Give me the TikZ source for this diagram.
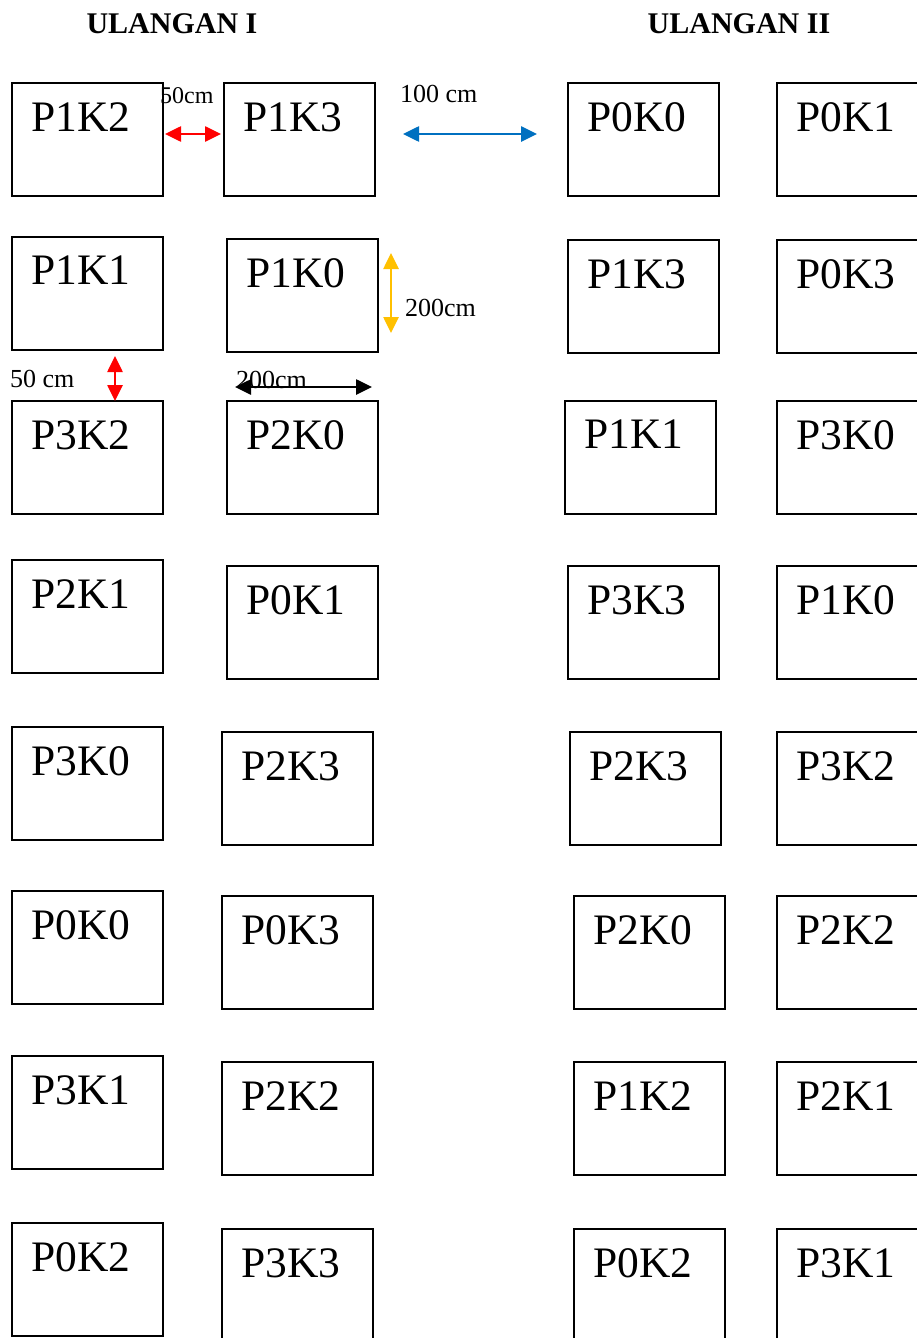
\documentclass[tikz,border=0pt]{standalone}
\usepackage{fontspec}
\setmainfont{Liberation Serif}
\usetikzlibrary{arrows.meta}

\tikzset{%
  plot box/.style={
    draw,
    line width=1.5pt,
    anchor=north west,
    minimum width=151pt,
    minimum height=113pt,
    inner sep=0pt,
    label={[plot name]north west:#1}
  },
  plot name/.style={
    anchor=north west,
    inner sep=0pt,
    xshift=20pt,
    yshift=-20pt,
    font=\fontsize{43.5}{45}\selectfont
  },
  gap arrow/.style={
    {Triangle[length=16pt,width=15pt]}-{Triangle[length=16pt,width=15pt]},
    line width=2.6pt,
    draw=#1
  },
  gap text/.style={
    inner sep=0pt,
    anchor=base west,
    font=\fontsize{26}{28}\selectfont
  },
  block title/.style={
    inner sep=0pt,
    font=\fontsize{30}{32}\selectfont\bfseries
  },
}

\definecolor{gapred}{RGB}{255,0,0}
\definecolor{gapblue}{RGB}{0,112,192}
\definecolor{gapgold}{RGB}{255,192,0}

\begin{document}
\begin{tikzpicture}[x=1pt, y=-1pt]

\useasboundingbox (0,0) rectangle (917,1338);
\clip (0,0) rectangle (917,1338);

\node [block title] (title-1) at (172,24) {ULANGAN I};
\node [block title] (title-2) at (739,24) {ULANGAN II};

\foreach \l/\x/\y [count=\i] in {P1K2/11/82, P1K1/11/236, P3K2/11/400, P2K1/11/559,
    P3K0/11/726, P0K0/11/890, P3K1/11/1055, P0K2/11/1222}
  \node [plot box=\l] (a-\i) at (\x,\y) {};

\foreach \l/\x/\y [count=\i] in {P1K3/223/82, P1K0/226/238, P2K0/226/400, P0K1/226/565,
    P2K3/221/731, P0K3/221/895, P2K2/221/1061, P3K3/221/1228}
  \node [plot box=\l] (b-\i) at (\x,\y) {};

\foreach \l/\x/\y [count=\i] in {P0K0/567/82, P1K3/567/239, P1K1/564/400, P3K3/567/565,
    P2K3/569/731, P2K0/573/895, P1K2/573/1061, P0K2/573/1228}
  \node [plot box=\l] (c-\i) at (\x,\y) {};

\foreach \l/\y [count=\i] in {P0K1/82, P0K3/239, P3K0/400, P1K0/565,
    P3K2/731, P2K2/895, P2K1/1061, P3K1/1228}
  \node [plot box=\l] (d-\i) at (776,\y) {};

\coordinate (red-l) at (165,134);
\coordinate (red-r) at (221,134);
\coordinate (blue-l) at (403,134);
\coordinate (blue-r) at (537,134);
\coordinate (gold-t) at (391,253);
\coordinate (gold-b) at (391,333);
\coordinate (redv-t) at (115,356);
\coordinate (redv-b) at (115,401);
\coordinate (wide-l) at (235,387);
\coordinate (wide-r) at (372,387);

\draw [gap arrow=gapred] (red-l) -- (red-r);
\draw [gap arrow=gapblue] (blue-l) -- (blue-r);
\draw [gap arrow=gapgold] (gold-t) -- (gold-b);
\draw [gap arrow=gapred] (redv-t) -- (redv-b);
\draw [gap arrow=black] (wide-l) -- (wide-r);

\node [gap text, font=\fontsize{24}{26}\selectfont] (gap-1) at (160,103) {50cm};
\node [gap text] (gap-2) at (400,102) {100 cm};
\node [gap text] (gap-3) at (405,316) {200cm};
\node [gap text] (gap-4) at (10,387) {50 cm};
\node [gap text] (gap-5) at (236,388) {200cm};

\end{tikzpicture}
\end{document}
